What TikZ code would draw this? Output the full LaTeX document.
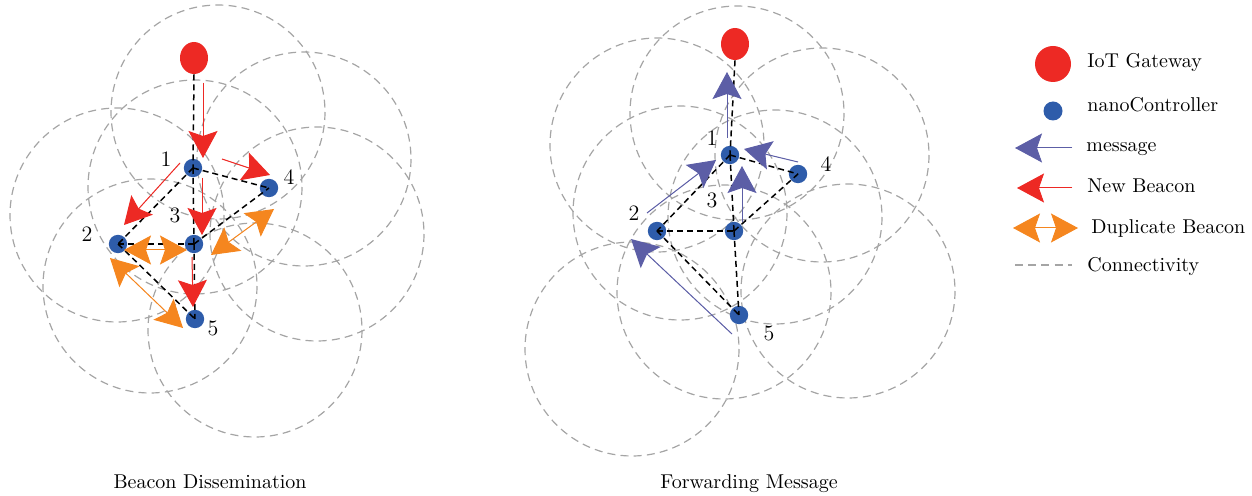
\documentclass[tikz,border=0pt]{standalone}
\usetikzlibrary{arrows.meta,shapes.geometric}
\definecolor{gwred}{RGB}{237,41,36}
\definecolor{ncblue}{RGB}{46,92,170}
\definecolor{duporange}{RGB}{245,134,31}
\definecolor{msgpurple}{RGB}{92,94,166}
\definecolor{rangegray}{RGB}{165,165,165}
\tikzset{
  rangecirc/.style={draw=rangegray, line width=0.6pt, dash pattern=on 4pt off 2.6pt},
  netlink/.style={draw=black, line width=0.75pt, dash pattern=on 3pt off 2pt},
  nanoc/.style={circle, fill=ncblue, inner sep=0pt, minimum size=9.2pt},
  gateway/.style={ellipse, fill=gwred, inner sep=0pt, minimum width=14pt, minimum height=16pt},
  lbl/.style={font=\fontsize{11}{13}\selectfont, inner sep=0pt, anchor=base},
  captext/.style={font=\fontsize{10}{12}\selectfont, inner sep=0pt, anchor=base},
  legtext/.style={font=\fontsize{10}{12}\selectfont, inner sep=0pt, anchor=base west},
  headtip/.tip={Stealth[length=13.5pt,width=14.5pt,inset=2.5pt]},
  beaconarr/.style={draw=gwred, fill=gwred, line width=0.5pt, -headtip},
  duparr/.style={draw=duporange, fill=duporange, line width=0.5pt, headtip-headtip},
  msgarr/.style={draw=msgpurple, fill=msgpurple, line width=0.5pt, -headtip},
}
\begin{document}
\begin{tikzpicture}[x=0.5pt,y=-0.5pt]
\useasboundingbox (0,0) rectangle (1252,496);
% ---------- left panel: ranges ----------
\foreach \cx/\cy in {218/112,304/159,317/234,195/187,117/215,150/286,255/330}
  \draw[rangecirc] (\cx,\cy) circle[radius=107];
% ---------- right panel: ranges ----------
\foreach \cx/\cy in {737/113,657/145,822/155,680/213,775/217,848/291,724/292,632/349}
  \draw[rangecirc] (\cx,\cy) circle[radius=107];

% ---------- left panel nodes ----------
\node[gateway] (LG) at (194,58) {};
\node[nanoc] (L1) at (193,168) {};
\node[nanoc] (L4) at (269,188) {};
\node[nanoc] (L2) at (118,244) {};
\node[nanoc] (L3) at (194,244) {};
\node[nanoc] (L5) at (195,319) {};
\node[lbl] (L1l) at (166,167) {1};
\node[lbl] (L4l) at (289,185) {4};
\node[lbl] (L3l) at (175,223) {3};
\node[lbl] (L2l) at (87,242) {2};
\node[lbl] (L5l) at (213,336) {5};
\draw[netlink] (LG.south) -- (L1.center);
\draw[netlink] (L1.center) -- (L3.center);
\draw[netlink] (L3.center) -- (L5.center);
\draw[netlink] (L1.center) -- (L4.center);
\draw[netlink] (L1.center) -- (L2.center);
\draw[netlink] (L2.center) -- (L3.center);
\draw[netlink] (L3.center) -- (L4.center);
\draw[netlink] (L2.center) -- (L5.center);

% ---------- right panel nodes ----------
\node[gateway] (RG) at (735,44) {};
\node[nanoc] (R1) at (730,155) {};
\node[nanoc] (R4) at (798,174) {};
\node[nanoc] (R2) at (657,231) {};
\node[nanoc] (R3) at (734,231) {};
\node[nanoc] (R5) at (739,315) {};
\node[lbl] (R1l) at (712,146) {1};
\node[lbl] (R4l) at (826,172) {4};
\node[lbl] (R3l) at (712,208) {3};
\node[lbl] (R2l) at (634,221) {2};
\node[lbl] (R5l) at (769,341) {5};
\draw[netlink] (RG.south) -- (R1.center);
\draw[netlink] (R1.center) -- (R3.center);
\draw[netlink] (R3.center) -- (R5.center);
\draw[netlink] (R1.center) -- (R4.center);
\draw[netlink] (R1.center) -- (R2.center);
\draw[netlink] (R2.center) -- (R3.center);
\draw[netlink] (R3.center) -- (R4.center);
\draw[netlink] (R2.center) -- (R5.center);

% ---------- left panel: beacon arrows ----------
\coordinate (a1s) at (203,83);  \coordinate (a1e) at (203,158);
\coordinate (a2s) at (222,159); \coordinate (a2e) at (270,175);
\coordinate (a3s) at (180,163); \coordinate (a3e) at (124,225);
\coordinate (a4s) at (202,178); \coordinate (a4e) at (202,235);
\coordinate (a5s) at (192,257); \coordinate (a5e) at (193,307);
\draw[beaconarr] (a1s) -- (a1e);
\draw[beaconarr] (a2s) -- (a2e);
\draw[beaconarr] (a3s) -- (a3e);
\draw[beaconarr] (a4s) -- (a4e);
\draw[beaconarr] (a5s) -- (a5e);
\coordinate (d1s) at (124,250); \coordinate (d1e) at (187,250);
\coordinate (d2s) at (110,258); \coordinate (d2e) at (183,328);
\coordinate (d3s) at (211,255); \coordinate (d3e) at (274,209);
\draw[duparr] (d1s) -- (d1e);
\draw[duparr] (d2s) -- (d2e);
\draw[duparr] (d3s) -- (d3e);

% ---------- right panel: message arrows ----------
\coordinate (m1s) at (727,138); \coordinate (m1e) at (727,72);
\coordinate (m2s) at (798,162); \coordinate (m2e) at (744,149);
\coordinate (m3s) at (742,222); \coordinate (m3e) at (742,166);
\coordinate (m4s) at (647,213); \coordinate (m4e) at (716,160);
\coordinate (m5s) at (732,334); \coordinate (m5e) at (631,239);
\draw[msgarr] (m1s) -- (m1e);
\draw[msgarr] (m2s) -- (m2e);
\draw[msgarr] (m3s) -- (m3e);
\draw[msgarr] (m4s) -- (m4e);
\draw[msgarr] (m5s) -- (m5e);

% ---------- captions ----------
\node[captext] (capL) at (210,488) {Beacon Dissemination};
\node[captext] (capR) at (749,488) {Forwarding Message};

% ---------- legend ----------
\node[circle, fill=gwred, inner sep=0pt, minimum size=18pt] (kG) at (1053,64) {};
\node[nanoc, minimum size=9.5pt] (kN) at (1053,111) {};
\coordinate (kMs) at (1072,148); \coordinate (kMe) at (1015,148);
\draw[msgarr] (kMs) -- (kMe);
\coordinate (kBs) at (1072,188); \coordinate (kBe) at (1017,188);
\draw[beaconarr] (kBs) -- (kBe);
\coordinate (kDs) at (1013,228); \coordinate (kDe) at (1078,228);
\draw[duparr] (kDs) -- (kDe);
\coordinate (kCs) at (1015,265); \coordinate (kCe) at (1072,265);
\draw[rangecirc] (kCs) -- (kCe);
\node[legtext] (tG) at (1087,68) {IoT Gateway};
\node[legtext] (tN) at (1087,112) {nanoController};
\node[legtext] (tM) at (1086,152) {message};
\node[legtext] (tB) at (1087,193) {New Beacon};
\node[legtext] (tD) at (1091,234) {Duplicate Beacon};
\node[legtext] (tC) at (1087,272) {Connectivity};
\end{tikzpicture}
\end{document}
